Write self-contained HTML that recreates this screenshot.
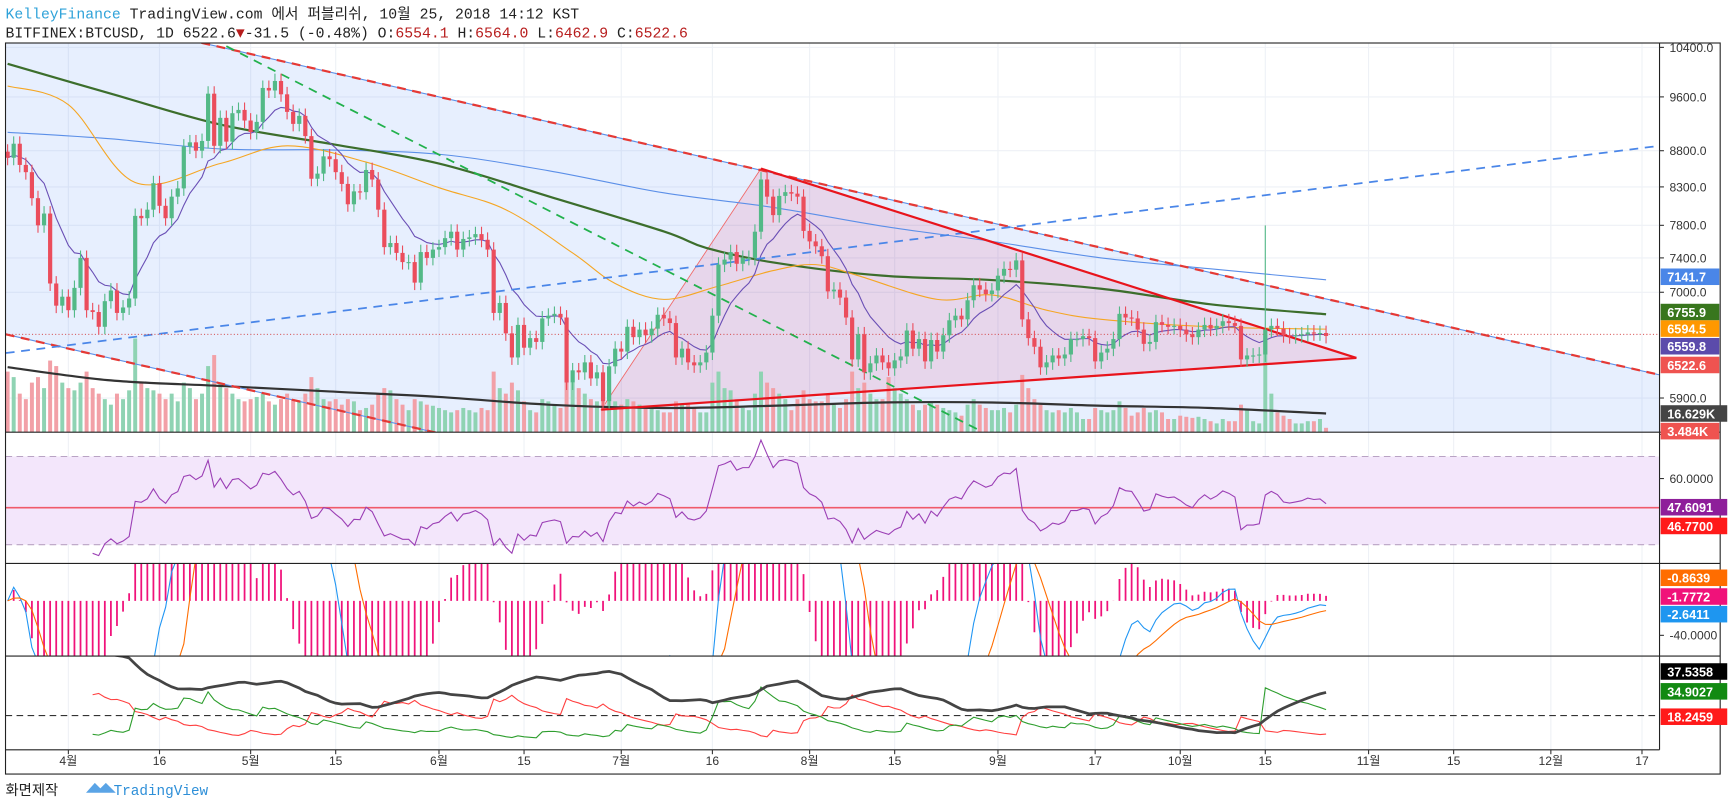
<!DOCTYPE html>
<html><head><meta charset="utf-8">
<style>
html,body{margin:0;padding:0;background:#fff;width:1729px;height:809px;overflow:hidden;}
svg{display:block;}
text{font-family:"Liberation Sans","Noto Sans CJK KR",sans-serif;}
.mono{font-family:"Liberation Mono","Noto Sans CJK KR",monospace;}
</style></head>
<body>
<svg id="chart" width="1729" height="809" viewBox="0 0 1568 733.7" preserveAspectRatio="none" xmlns="http://www.w3.org/2000/svg">
<defs>
<clipPath id="cMain"><rect x="5" y="39" width="1500" height="353"/></clipPath>
<clipPath id="cRsi"><rect x="5" y="392" width="1500" height="119"/></clipPath>
<clipPath id="cMacd"><rect x="5" y="511" width="1500" height="84"/></clipPath>
<clipPath id="cDmi"><rect x="5" y="595" width="1500" height="85"/></clipPath>
</defs>
<rect x="0" y="0" width="1568" height="733.7" fill="#fff"/>
<text class="mono" x="5" y="17" font-size="13.4"><tspan fill="#2ea2d9">KelleyFinance</tspan><tspan fill="#222"> TradingView.com 에서 퍼블리쉬, 10월 25, 2018 14:12 KST</tspan></text>
<text class="mono" x="5" y="34" font-size="13.4" fill="#222">BITFINEX:BTCUSD, 1D 6522.6<tspan fill="#b71c1c">▼</tspan>-31.5 (-0.48%) O:<tspan fill="#b71c1c">6554.1</tspan> H:<tspan fill="#b71c1c">6564.0</tspan> L:<tspan fill="#b71c1c">6462.9</tspan> C:<tspan fill="#b71c1c">6522.6</tspan></text>
<g id="grid"></g>
<g id="main" clip-path="url(#cMain)"></g>
<g id="rsi" clip-path="url(#cRsi)"></g>
<g id="macd" clip-path="url(#cMacd)"></g>
<g id="dmi" clip-path="url(#cDmi)"></g>
<g id="frame" fill="none" stroke="#222" stroke-width="1">
<rect x="5" y="39" width="1555" height="663"/>
<line x1="1505" y1="39" x2="1505" y2="680"/>
<line x1="5" y1="392" x2="1560" y2="392"/>
<line x1="5" y1="511" x2="1560" y2="511"/>
<line x1="5" y1="595" x2="1560" y2="595"/>
<line x1="5" y1="680" x2="1505" y2="680"/>
</g>
<g id="axes"></g>
<text x="5" y="721" font-size="13" fill="#222">화면제작</text>
<g>
<path d="M78 719 l8 -9 l5 5 l5 -5 l9 9 z" fill="#5aa4e6"/>
<text x="103" y="721" font-size="13" fill="#2e8fd8" class="mono">TradingView</text>
</g>
</svg>
<script>
const closes = [
8700,8900,8600,8500,8150,7800,7950,7100,6850,6950,
6800,7050,7400,6800,6780,6620,6900,7020,6770,6830,6930,7920,7890,8000,8350,8050,7890,8170,8280,8860,8920,8800,8940,9650,8870,9280,8930,9350,9400,9240,
9070,9220,9740,9700,9850,9640,9370,9190,9310,9010,8410,8480,8720,8680,8500,8340,8070,8240,8230,8530,8400,8000,7530,7580,7460,7350,7350,7110,7470,7400,7500,
7530,7640,7720,7500,7630,7650,7690,7620,7500,6770,6880,6550,6300,6640,6400,6500,6460,6710,6740,6760,6720,6050,6170,6150,6250,6090,6150,5870,6210,6390,
6360,6620,6510,6590,6530,6600,6750,6710,6660,6300,6390,6250,6220,6250,6350,6740,7320,7380,7470,7330,7400,7400,7720,8400,8170,7930,8180,8230,8210,8170,7730,
7600,7540,7420,7010,7030,6940,6720,6280,6540,6150,6240,6320,6250,6190,6270,6310,6580,6390,6490,6260,6480,6360,6530,6690,6740,6700,6910,7080,7030,6980,7020,
7190,7270,7260,7370,6700,6500,6410,6200,6250,6320,6290,6330,6490,6490,6520,6500,6260,6350,6390,6490,6760,6720,6710,6590,6440,6460,6670,6640,6620,6630,
6590,6540,6510,6590,6640,6600,6630,6680,6660,6630,6280,6320,6320,6330,6590,6630,6600,6530,6520,6530,6540,6560,6550,6554,6522.6];
const volumesK = [
55,50,35,30,45,50,40,65,60,45,
40,38,45,55,40,35,30,25,35,30,38,85,45,40,38,35,30,35,28,45,40,30,35,60,70,45,40,35,30,28,
30,32,35,28,25,30,35,30,28,35,50,40,30,28,30,25,30,28,20,22,25,35,40,38,30,25,20,30,28,25,24,
22,20,18,20,22,20,18,22,20,55,40,35,45,38,28,20,18,30,28,25,22,60,45,40,35,30,28,40,35,28,
25,30,28,25,22,22,20,18,18,28,25,25,22,18,18,45,55,40,38,30,22,20,35,55,45,40,35,30,20,30,38,
30,28,28,35,25,22,30,55,40,45,35,30,30,50,40,35,30,25,20,25,28,25,22,20,18,15,25,30,25,22,20,
20,22,18,25,52,40,30,25,20,18,20,18,22,18,12,12,22,20,18,20,28,22,15,18,22,18,20,18,12,12,
15,14,13,14,12,10,8,12,10,10,25,20,10,8,88,35,18,15,12,8,8,10,10,12,4];
const highOverrides = [[207, 7800]];
const firstDay = -10;
const maGreenDays = [-10,7,25,43,61,79,98,105,116,134,152,170,188,207];
const maGreenVals = [10126,9650,9180,8900,8620,8175,7723,7520,7346,7190,7140,7040,6865,6756];
const maBlueDays = [-10,7,25,43,61,79,98,116,134,152,170,188,207];
const maBlueVals = [9065,8970,8825,8810,8750,8520,8220,8030,7790,7600,7400,7270,7142];
const maOrangeDays = [-10,0,11,25,36,49,61,72,83,90,98,107,116,123,130,143,152,161,170,188,207];
const maOrangeVals = [9770,9480,8360,8620,8870,8640,8290,8000,7460,7100,6920,7070,7250,7320,7190,6920,6970,6800,6700,6620,6595];
const volMaDays = [-10,7,25,43,61,79,98,116,134,152,170,188,207];
const volMaVals = [59,47,42,37,32,25,22,24,27,27,24,22,17];
const channelUpper = [[-10.3,11260],[261.9,6125]];
const channelLower = [[-10.3,6540],[261.9,3550]];
const blueDashed = [[-10.3,6345],[261.9,8870]];
const greenDashed = [[26,10420],[150.3,5590]];
const triangle = [[114,8550],[87.7,5790],[212,6295]];
const lastPriceLine = 6540;
const priceTicks = [10400,9600,8800,8300,7800,7400,7000,5900];
const timeLabels = ['4월','16','5월','15','6월','15','7월','16','8월','15','9월','17','10월','15','11월','15','12월','17'];
const timeLabelDays = [0,15,30,44,61,75,91,106,122,136,153,169,183,197,214,228,244,259];
const priceLabels = [['7141.7','#4a86e8',251],['6755.9','#38761d',283],['6594.5','#ff9800',298],['6559.8','#5b4bab',314],['6522.6','#ef5350',331],['16.629K','#444',375],['3.484K','#ef5350',391]];
const rsiLabels = [['47.6091','#8e1e9a',460],['46.7700','#ff1a1a',477]];
const macdLabels = [['-0.8639','#ff6d00',524],['-1.7772','#f0127a',541],['-2.6411','#1e96f0',557]];
const dmiLabels = [['37.5358','#000',609],['34.9027','#128a12',627],['18.2459','#ff1a1a',650]];

const X = d => 62 + d*5.51;
const XI = i => X(i + firstDay);
const YP = p => 43 + (9.2495 - Math.log(p))*561;
const YV = k => 392 - k*1.0;
const YR = v => 394 + (80 - v)*2;
const YM = v => Math.max(505, Math.min(601, 545 - v*0.78));
const YD = v => 649 - (v - 20)*1.5;
const NS = 'http://www.w3.org/2000/svg';
function mk(parent, tag, attrs){const e=document.createElementNS(NS,tag);for(const k in attrs)e.setAttribute(k,attrs[k]);document.getElementById(parent).appendChild(e);return e;}
function poly(parent, pts, attrs){return mk(parent,'polyline',Object.assign({points:pts.map(p=>p[0].toFixed(1)+','+p[1].toFixed(1)).join(' '),fill:'none'},attrs));}
function smooth(parent, pts, attrs){let d='M'+pts[0][0].toFixed(1)+','+pts[0][1].toFixed(1);for(let i=0;i<pts.length-1;i++){const p0=pts[Math.max(i-1,0)],p1=pts[i],p2=pts[i+1],p3=pts[Math.min(i+2,pts.length-1)];const c1=[p1[0]+(p2[0]-p0[0])/6,p1[1]+(p2[1]-p0[1])/6],c2=[p2[0]-(p3[0]-p1[0])/6,p2[1]-(p3[1]-p1[1])/6];d+=' C'+c1.map(v=>v.toFixed(1)).join(',')+' '+c2.map(v=>v.toFixed(1)).join(',')+' '+p2.map(v=>v.toFixed(1)).join(',');}return mk(parent,'path',Object.assign({d:d,fill:'none'},attrs));}

const opens = closes.map((c,i)=> i===0 ? c*1.01 : closes[i-1]);
const highs = closes.map((c,i)=> Math.max(c,opens[i])*1.012);
const lows = closes.map((c,i)=> Math.min(c,opens[i])*0.988);
highOverrides.forEach(h=>{highs[h[0]]=h[1];});

timeLabelDays.forEach(d=>{
  const l=mk('grid','line',{x1:X(d),x2:X(d),y1:39,y2:680,stroke:'#eef1f6','stroke-width':1});
  
  
});
priceTicks.forEach(p=>{
  const l=mk('grid','line',{x1:5,x2:1505,y1:YP(p),y2:YP(p),stroke:'#eef1f6','stroke-width':1});
  
  
});

const ch = [[X(channelUpper[0][0]),YP(channelUpper[0][1])],[X(channelUpper[1][0]),YP(channelUpper[1][1])],[X(channelLower[1][0]),YP(channelLower[1][1])],[X(channelLower[0][0]),YP(channelLower[0][1])]];
const chP = mk('main','polygon',{points:ch.map(p=>p.join(',')).join(' '),fill:'rgba(66,133,244,0.13)'});


const tri = triangle.map(p=>[X(p[0]),YP(p[1])]);
const triP = mk('main','polygon',{points:tri.map(p=>p.join(',')).join(' '),fill:'rgba(233,30,99,0.12)',stroke:'#f06a6a','stroke-width':0.8});



closes.forEach((c,i)=>{
  const up=c>=opens[i];
  const r=mk('main','rect',{x:XI(i)-1.8,y:YV(volumesK[i]),width:3.6,height:392-YV(volumesK[i]),fill:up?'#8fd3b3':'#f2a0a7'});
  
  
});
const vm=smooth('main',volMaDays.map((d,j)=>[X(d),YV(volMaVals[j])]),{stroke:'#333','stroke-width':2});



function maLine(days, vals, color, w, name){
  const l=smooth('main',days.map((d,j)=>[X(d),YP(vals[j])]),{stroke:color,'stroke-width':w});
  
  
}
maLine(maBlueDays,maBlueVals,'#5b8fe8',1,'ma-200-line');
maLine(maGreenDays,maGreenVals,'#3c6e2c',2,'ma-100-line');
maLine(maOrangeDays,maOrangeVals,'#f5a623',1,'ma-50-line');
const ema=(arr,n)=>{const k=2/(n+1);const o=[];arr.forEach((v,i)=>o.push(i===0?v:v*k+o[i-1]*(1-k)));return o;};
const ema10=ema(closes,10);
const pl=poly('main',ema10.map((v,i)=>[XI(i),YP(v)]),{stroke:'#6a4fb5','stroke-width':1});



function dl(parent,pts,attrs,name){const l=mk(parent,'line',Object.assign({x1:X(pts[0][0]),y1:YP(pts[0][1]),x2:X(pts[1][0]),y2:YP(pts[1][1])},attrs));return l;}
dl('main',channelUpper,{stroke:'#5b8fe8','stroke-width':1},'channel-upper-border');
dl('main',channelUpper,{stroke:'#e53935','stroke-width':2,'stroke-dasharray':'8,6'},'channel-upper-dashed');
dl('main',channelLower,{stroke:'#5b8fe8','stroke-width':1},'channel-lower-border');
dl('main',channelLower,{stroke:'#e53935','stroke-width':2,'stroke-dasharray':'8,6'},'channel-lower-dashed');
dl('main',blueDashed,{stroke:'#4a86e8','stroke-width':1.6,'stroke-dasharray':'8,6'},'blue-trendline');
dl('main',greenDashed,{stroke:'#22b14c','stroke-width':1.6,'stroke-dasharray':'8,6'},'green-trendline');
dl('main',[triangle[0],triangle[2]],{stroke:'#e8141c','stroke-width':2},'triangle-upper-line');
dl('main',[triangle[1],triangle[2]],{stroke:'#e8141c','stroke-width':2},'triangle-lower-line');
const lp=mk('main','line',{x1:5,x2:1505,y1:YP(lastPriceLine),y2:YP(lastPriceLine),stroke:'#d23b3b','stroke-width':0.8,'stroke-dasharray':'1,2'});



closes.forEach((c,i)=>{
  const up=c>=opens[i];const col=up?'#53b987':'#eb4d5c';const x=XI(i);
  const w=mk('main','line',{x1:x,x2:x,y1:YP(highs[i]),y2:YP(lows[i]),stroke:col,'stroke-width':1});
  
  
  const t=YP(Math.max(c,opens[i])),b=YP(Math.min(c,opens[i]));
  const r=mk('main','rect',{x:x-1.9,y:t,width:3.8,height:Math.max(1,b-t),fill:col});
  
  
});

const bg=mk('rsi','rect',{x:5,y:YR(70),width:1500,height:YR(30)-YR(70),fill:'#f3e6fb'});


[70,30].forEach(v=>{const l=mk('rsi','line',{x1:5,x2:1505,y1:YR(v),y2:YR(v),stroke:'#b9a3c4','stroke-dasharray':'6,4','stroke-width':1});});
const rl=mk('rsi','line',{x1:5,x2:1505,y1:YR(46.77),y2:YR(46.77),stroke:'#f05a6a','stroke-width':1.5});


const rsi=[];{let ag=0,al=0;for(let i=1;i<closes.length;i++){const ch=closes[i]-closes[i-1];const g=Math.max(ch,0),l=Math.max(-ch,0);if(i<=14){ag+=g/14;al+=l/14;}else{ag=(ag*13+g)/14;al=(al*13+l)/14;}if(i>=14){rsi.push([i,al===0?100:100-100/(1+ag/al)]);}}}
const rp=poly('rsi',rsi.map(p=>[XI(p[0]),YR(p[1])]),{stroke:'#9b3fb5','stroke-width':1});



const e12=ema(closes,12),e26=ema(closes,26);const macd=e12.map((v,i)=>v-e26[i]);const sig=ema(macd,9);
macd.forEach((m,i)=>{const h=m-sig[i];const y0=YM(0),y1=YM(h);
  const b=mk('macd','line',{x1:XI(i),x2:XI(i),y1:y0,y2:y1,stroke:'#f0127a','stroke-width':1.6});
  
  });
const mp=poly('macd',macd.map((v,i)=>[XI(i),YM(v)]),{stroke:'#2196f3','stroke-width':1});


const sp=poly('macd',sig.map((v,i)=>[XI(i),YM(v)]),{stroke:'#ff6d00','stroke-width':1});



const pdi=[],mdi=[],adx=[];{let tr=0,pd=0,md=0,ad=null;for(let i=1;i<closes.length;i++){const up=highs[i]-highs[i-1],dn=lows[i-1]-lows[i];const p=(up>dn&&up>0)?up:0,m=(dn>up&&dn>0)?dn:0;const t=Math.max(highs[i]-lows[i],Math.abs(highs[i]-closes[i-1]),Math.abs(lows[i]-closes[i-1]));if(i<=14){tr+=t;pd+=p;md+=m;}else{tr=tr-tr/14+t;pd=pd-pd/14+p;md=md-md/14+m;}if(i>=14){const P=100*pd/tr,M=100*md/tr;const dx=100*Math.abs(P-M)/Math.max(P+M,1e-9);pdi.push([i,P]);mdi.push([i,M]);ad=ad===null?dx:(ad*13+dx)/14;adx.push([i,ad]);}}}
const dz=mk('dmi','line',{x1:5,x2:1505,y1:YD(20),y2:YD(20),stroke:'#333','stroke-dasharray':'6,4','stroke-width':1});


const dm1=poly('dmi',mdi.map(p=>[XI(p[0]),YD(p[1])]),{stroke:'#ff4040','stroke-width':1});


const dp1=poly('dmi',pdi.map(p=>[XI(p[0]),YD(p[1])]),{stroke:'#2e9e2e','stroke-width':1});


const ax1=poly('dmi',adx.map(p=>[XI(p[0]),YD(p[1])]),{stroke:'#444','stroke-width':2.5});



function axText(x,y,s,attrs){const t=mk('axes','text',Object.assign({x:x,y:y,'font-size':11,fill:'#333'},attrs));t.textContent=s;return t;}
priceTicks.forEach(p=>{const y=YP(p);mk('axes','line',{x1:1505,x2:1509,y1:y,y2:y,stroke:'#333'});const t=axText(1514,y+4,p.toFixed(1));});
[[80,'80.0000',YR(80)],[60,'60.0000',YR(60)],[-40,'-40.0000',545+40*0.78]].forEach(a=>{mk('axes','line',{x1:1505,x2:1509,y1:a[2],y2:a[2],stroke:'#333'});const t=axText(1514,a[2]+4,a[1]);});
function tag(arr){arr.forEach(l=>{const r=mk('axes','rect',{x:1506,y:l[2]-7.5,width:(l[0].length*7.2+10),height:15,fill:l[1]});const t=axText(1512,l[2]+4.5,l[0],{fill:'#fff','font-weight':'bold','font-size':11.5});});}
tag(priceLabels);tag(rsiLabels);tag(macdLabels);tag(dmiLabels);
timeLabels.forEach((s,j)=>{const x=X(timeLabelDays[j]);mk('axes','line',{x1:x,x2:x,y1:680,y2:684,stroke:'#333'});const t=axText(x,694,s,{'text-anchor':'middle','font-size':11});});
</script>
</body></html>
